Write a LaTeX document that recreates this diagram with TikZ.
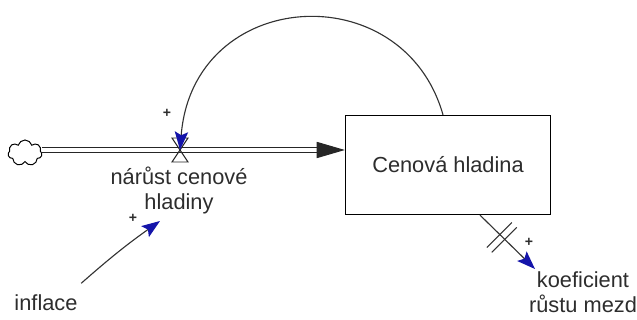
\documentclass[tikz,border=0pt]{standalone}
\usepackage{fontspec}
\setmainfont{Liberation Sans}
\usetikzlibrary{arrows.meta,shapes.symbols,calc}
\definecolor{linkblue}{RGB}{20,20,170}
\definecolor{textgray}{RGB}{45,45,45}

\begin{document}
\begin{tikzpicture}[x=0.025cm, y=-0.025cm,
  lbl/.style={text=textgray, font=\fontsize{15.5}{17.8}\selectfont, align=center, inner sep=1pt},
  sgn/.style={text=textgray, font=\bfseries\fontsize{10}{10}\selectfont, inner sep=0pt},
  link/.style={draw=black!80, line width=0.8pt, -{Stealth[length=13pt, width=9.5pt, inset=2.5pt, color=linkblue]}},
  pipe/.style={draw=black!85, line width=0.7pt, double distance=3pt}]
\useasboundingbox (0,0) rectangle (637,320);

\node[cloud, draw, cloud puffs=7, aspect=1.3, minimum width=0.85cm, minimum height=0.65cm, inner sep=0pt, line width=0.7pt] (src) at (25,153) {};
\node[draw, line width=0.9pt, minimum width=5.125cm, minimum height=2.475cm, lbl] (stock) at (448,165) {Cenová hladina};
\coordinate (valve) at (180,150);
\node[lbl] (rate) at (179,190) {nárůst cenové\\hladiny};
\node[lbl] (infl) at (46,303) {inflace};
\node[lbl] (coef) at (583,292) {koeficient\\růstu mezd};
\coordinate (rate-in) at (160,221);
\coordinate (coef-in) at (535,269);

\draw[pipe] (src.east |- valve) -- ($(stock.west |- valve)+(-27,0)$);
\draw[draw=black!85, line width=0.7pt, -{Triangle[length=20pt, width=11.5pt]}] ($(stock.west |- valve)+(-28,0)$) -- (stock.west |- valve);
\draw[draw=black!85, line width=0.7pt] ($(valve)+(-8,-12)$) -- ++(16,0) -- ++(-16,24) -- ++(16,0) -- cycle;

\draw[link] ($(stock.north)+(-5,0)$) .. controls (403,-26) and (193,-13) .. (valve);
\node[sgn] at (167,113) {+};

\draw[link] ([shift={(2,-10)}]infl.north east) to[bend left=3] (rate-in);
\node[sgn] at (133,218) {+};

\draw[link] ($(stock.south)+(32,0)$) -- (coef-in) coordinate[pos=0.36] (c1) coordinate[pos=0.45] (c2);
\draw[draw=black!80, line width=0.7pt] ($(c1)+(-13,13)$) -- ($(c1)+(12,-12)$);
\draw[draw=black!80, line width=0.7pt] ($(c2)+(-13,13)$) -- ($(c2)+(12,-12)$);
\node[sgn] at (529,242) {+};
\end{tikzpicture}
\end{document}
